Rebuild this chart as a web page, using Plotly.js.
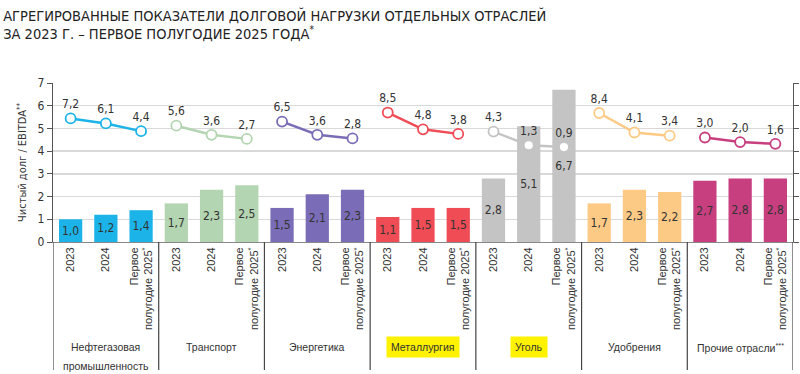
<!DOCTYPE html>
<html><head><meta charset="utf-8">
<script src="https://cdn.plot.ly/plotly-3.0.1.min.js"></script>
<style>html,body{margin:0;padding:0;background:#fff}#chart{width:800px;height:374px}</style>
</head><body><div id="chart"></div>
<script>
const groups = ['Нефтегазовая<br>промышленность','Транспорт','Энергетика','Металлургия','Уголь','Удобрения','Прочие отрасли<sup>***</sup>'];
const periods = ['2023','2024','Первое<br>полугодие 2025<sup>*</sup>'];
const debtEbitda = [[1.0,1.2,1.4],[1.7,2.3,2.5],[1.5,2.1,2.3],[1.1,1.5,1.5],[2.8,5.1,6.7],[1.7,2.3,2.2],[2.7,2.8,2.8]];
const lineValues = [[7.2,6.1,4.4],[5.6,3.6,2.7],[6.5,3.6,2.8],[8.5,4.8,3.8],[4.3,1.3,0.9],[8.4,4.1,3.4],[3.0,2.0,1.6]];
const colors = ['#1cb4e8','#b4d5b1','#7a6cb6','#ef4c56','#c4c4c4','#fdca86','#c83f80'];
const highlighted = [false,false,false,true,true,false,false];

const FONT = '"Liberation Sans Narrow", "DejaVu Sans Condensed", "Liberation Sans", sans-serif';
const TEXT = '#333333';
const traces = [];
const tickvals = [], ticktext = [];
groups.forEach((g, gi) => {
  const xs = periods.map((p, pi) => gi * periods.length + pi);
  xs.forEach((x, pi) => { tickvals.push(x); ticktext.push(periods[pi]); });
  traces.push({
    type: 'bar', x: xs, y: debtEbitda[gi], width: 0.66,
    marker: {color: colors[gi]},
    texttemplate: '%{y:.1f}', textposition: 'inside', insidetextanchor: 'middle',
    textangle: 0, textfont: {color: TEXT, size: 12, family: FONT},
    hoverinfo: 'skip', showlegend: false, cliponaxis: false
  });
  traces.push({
    type: 'scatter', mode: 'lines+markers+text', x: xs, y: lineValues[gi], yaxis: 'y2',
    line: {color: colors[gi], width: 2.5},
    marker: {size: 10, color: '#ffffff', line: {color: colors[gi], width: 1.8}},
    texttemplate: '%{y:.1f}', textposition: 'top center',
    textfont: {color: TEXT, size: 12, family: FONT},
    hoverinfo: 'skip', showlegend: false, cliponaxis: false
  });
});

const n = groups.length * periods.length;
const shapes = [];
for (let gi = 0; gi <= groups.length; gi++) {
  shapes.push({type: 'line', xref: 'x', yref: 'paper', x0: gi * periods.length - 0.5, x1: gi * periods.length - 0.5,
    y0: 0, y1: -0.805, line: {color: '#444444', width: 1.2}});
}
const annotations = [];
groups.forEach((g, gi) => {
  const lines = g.split('<br>');
  lines.forEach((t, li) => {
    annotations.push({
      xref: 'x', yref: 'paper', x: gi * periods.length + 1, y: 0, yanchor: 'middle', xanchor: 'center',
      yshift: -105 - li * 19, text: t, showarrow: false,
      font: {size: 10.5, color: TEXT, family: '"Liberation Sans", sans-serif'},
      bgcolor: highlighted[gi] ? '#fff200' : 'rgba(0,0,0,0)', borderpad: highlighted[gi] ? 4 : 0
    });
  });
});

const layout = {
  width: 800, height: 374,
  margin: {l: 53, r: 7, t: 83, b: 132},
  paper_bgcolor: '#ffffff', plot_bgcolor: '#ffffff',
  separators: ',.',
  barmode: 'overlay',
  font: {family: FONT, color: TEXT, size: 12},
  title: {
    text: 'АГРЕГИРОВАННЫЕ ПОКАЗАТЕЛИ ДОЛГОВОЙ НАГРУЗКИ ОТДЕЛЬНЫХ ОТРАСЛЕЙ<br>ЗА 2023 Г. – ПЕРВОЕ ПОЛУГОДИЕ 2025 ГОДА<sup>*</sup>',
    x: 0.004, xanchor: 'left', xref: 'container', y: 0.945, yanchor: 'top', yref: 'container',
    font: {size: 14.5, color: '#222222', family: FONT}
  },
  xaxis: {
    range: [-0.5, n - 0.5], tickmode: 'array', tickvals: tickvals, ticktext: ticktext,
    tickangle: -90, ticks: '', showgrid: false, zeroline: false,
    showline: true, linecolor: '#888888', linewidth: 1,
    tickfont: {size: 11, color: TEXT, family: '"Liberation Sans", sans-serif'}, fixedrange: true
  },
  yaxis: {
    range: [0, 7], dtick: 1, showgrid: true, gridcolor: '#d9d9d9', gridwidth: 1.3,
    zeroline: false, showline: true, linecolor: '#555555', linewidth: 1.2,
    ticks: 'outside', ticklen: 5, tickcolor: '#555555',
    tickfont: {size: 12, color: TEXT, family: FONT},
    title: {text: 'Чистый долг / EBITDA<sup>**</sup>', font: {size: 11, color: TEXT, family: FONT}, standoff: 8},
    fixedrange: true
  },
  yaxis2: {
    overlaying: 'y', side: 'right', range: [-20, 15], dtick: 5,
    showgrid: false, zeroline: false, showline: true, linecolor: '#555555', linewidth: 1.2,
    ticks: 'outside', ticklen: 5, tickcolor: '#555555', showticklabels: false, fixedrange: true
  },
  shapes: shapes,
  annotations: annotations
};
Plotly.newPlot('chart', traces, layout, {displayModeBar: false, staticPlot: true});
</script>
</body></html>
